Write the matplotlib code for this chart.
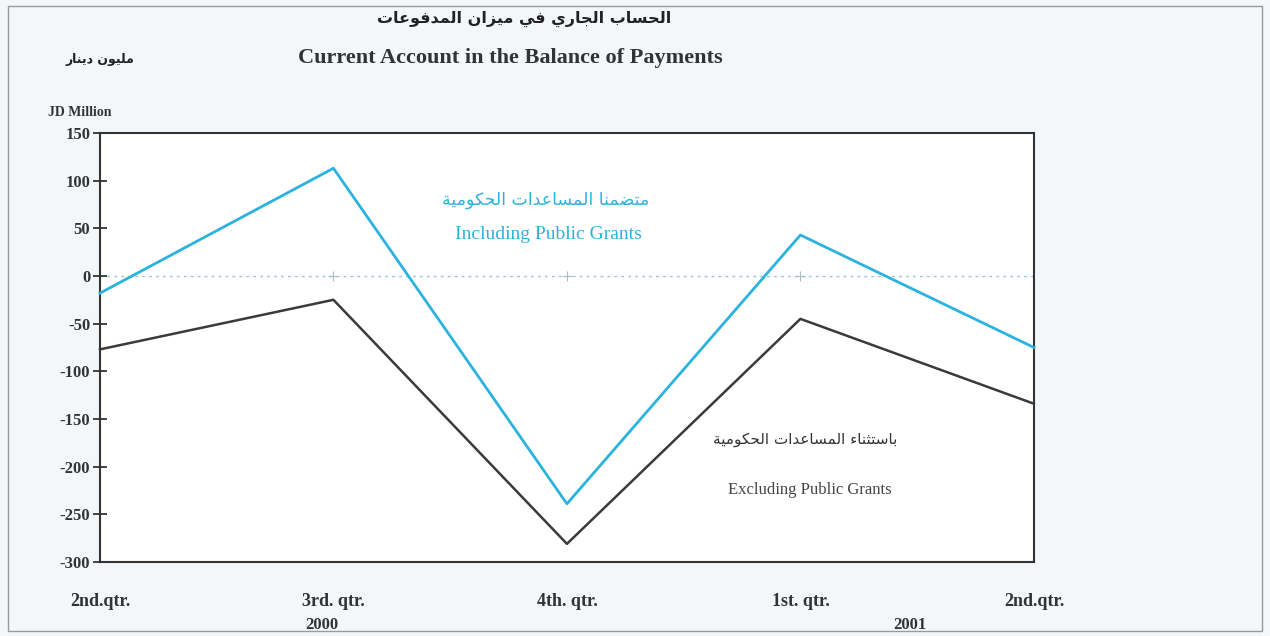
import matplotlib

matplotlib.use("Agg")
import matplotlib.pyplot as plt
from matplotlib.patches import Rectangle
from matplotlib.transforms import blended_transform_factory

# data (JD million)
quarters = ["2nd.qtr.", "3rd. qtr.", "4th. qtr.", "1st. qtr.", "2nd.qtr."]
including_grants = [-18, 113, -239, 43, -75]
excluding_grants = [-77, -25, -281, -45, -134]
y_ticks = [-300, -250, -200, -150, -100, -50, 0, 50, 100, 150]
years = ["2000", "2001"]
year_pos = [0.95, 3.47]

BLUE = "#2bb3df"
DARK = "#3a3a3a"
SERIF = ["Liberation Serif", "DejaVu Serif"]

# --- minimal Arabic shaping (matplotlib draws glyphs left-to-right, unshaped)
_DUAL = {
    "ب": 0xFE8F, "ت": 0xFE95, "ث": 0xFE99, "ج": 0xFE9D, "ح": 0xFEA1,
    "خ": 0xFEA5, "س": 0xFEB1, "ش": 0xFEB5, "ص": 0xFEB9, "ض": 0xFEBD,
    "ط": 0xFEC1, "ظ": 0xFEC5, "ع": 0xFEC9, "غ": 0xFECD, "ف": 0xFED1,
    "ق": 0xFED5, "ك": 0xFED9, "ل": 0xFEDD, "م": 0xFEE1, "ن": 0xFEE5,
    "ه": 0xFEE9, "ي": 0xFEF1,
}
_RIGHT = {
    "ا": 0xFE8D, "ة": 0xFE93, "د": 0xFEA9, "ذ": 0xFEAB, "ر": 0xFEAD,
    "ز": 0xFEAF, "و": 0xFEED, "ى": 0xFEEF,
}
_NONE = {"ء": 0xFE80}


def shape_arabic(text):
    out = []
    for i, ch in enumerate(text):
        prev = text[i - 1] if i > 0 else ""
        nxt = text[i + 1] if i + 1 < len(text) else ""
        joins_prev = prev in _DUAL and (ch in _DUAL or ch in _RIGHT)
        joins_next = ch in _DUAL and (nxt in _DUAL or nxt in _RIGHT)
        if ch in _DUAL:
            base = _DUAL[ch]
            if joins_prev and joins_next:
                out.append(chr(base + 3))
            elif joins_prev:
                out.append(chr(base + 1))
            elif joins_next:
                out.append(chr(base + 2))
            else:
                out.append(chr(base))
        elif ch in _RIGHT:
            out.append(chr(_RIGHT[ch] + (1 if joins_prev else 0)))
        elif ch in _NONE:
            out.append(chr(_NONE[ch]))
        else:
            out.append(ch)
    return "".join(reversed(out))


fig = plt.figure(figsize=(12.7, 6.36), dpi=100, facecolor="#f3f7fa")
fig.patches.append(Rectangle((0.006, 0.008), 0.988, 0.982, transform=fig.transFigure,
                             fill=False, edgecolor="#9a9a9a", linewidth=1.0))

ax = fig.add_axes([0.0787, 0.1164, 0.7354, 0.6745])
ax.set_facecolor("white")

x = list(range(len(quarters)))
ax.axhline(0, color="#9cc4d2", linestyle=(0, (2, 3)), linewidth=1.0, zorder=1)
ax.plot(x[1:-1], [0] * (len(x) - 2), linestyle="none", marker="+", markersize=7,
        color="#a6bcc6", markeredgewidth=0.8, zorder=1)
ax.plot(x, including_grants, color=BLUE, linewidth=2.0, clip_on=False, zorder=3)
ax.plot(x, excluding_grants, color=DARK, linewidth=1.8, clip_on=False, zorder=3)

ax.set_xlim(0, 4)
ax.set_ylim(-300, 150)
ax.set_yticks(y_ticks)
ax.set_yticklabels([str(v) for v in y_ticks], family=SERIF, fontweight="bold",
                   fontsize=12, color="#333333")
ax.tick_params(axis="y", direction="inout", length=10, width=1.3, color="#333333", pad=2)
ax.set_xticks(x)
ax.set_xticklabels(quarters, family=SERIF, fontweight="bold", fontsize=13, color="#333333")
ax.tick_params(axis="x", length=0, pad=22)
for s in ax.spines.values():
    s.set_color("#333333")
    s.set_linewidth(1.5)

# year labels under the quarter labels
tr = blended_transform_factory(ax.transData, fig.transFigure)
for yr, xp in zip(years, year_pos):
    ax.text(xp, 0.018, yr, transform=tr, ha="center", va="center", family=SERIF,
            fontweight="bold", fontsize=12, color="#333333")

# titles
fig.text(0.413, 0.970, shape_arabic("الحساب الجاري في ميزان المدفوعات"), ha="center",
         va="center", family=["DejaVu Sans"], fontweight="bold", fontsize=11.5,
         color="#222222")
fig.text(0.402, 0.909, "Current Account in the Balance of Payments", ha="center",
         va="center", family=SERIF, fontweight="bold", fontsize=16, color="#333333")
fig.text(0.079, 0.906, shape_arabic("مليون دينار"), ha="center", va="center",
         family=["DejaVu Sans"], fontweight="bold", fontsize=9, color="#222222")
fig.text(0.063, 0.823, "JD Million", ha="center", va="center", family=SERIF,
         fontweight="bold", fontsize=10, color="#333333")

# series annotations
ax.text(1.91, 80, shape_arabic("متضمنا المساعدات الحكومية"), ha="center", va="center",
        family=["DejaVu Sans"], fontsize=12.5, color=BLUE)
ax.text(1.92, 43, "Including Public Grants", ha="center", va="center", family=SERIF,
        fontsize=14, color=BLUE)
ax.text(3.02, -172, shape_arabic("باستثناء المساعدات الحكومية"), ha="center", va="center",
        family=["DejaVu Sans"], fontsize=11, color="#333333")
ax.text(3.04, -225, "Excluding Public Grants", ha="center", va="center", family=SERIF,
        fontsize=12, color="#444444")

fig.savefig("out.png", dpi=100, facecolor=fig.get_facecolor())
